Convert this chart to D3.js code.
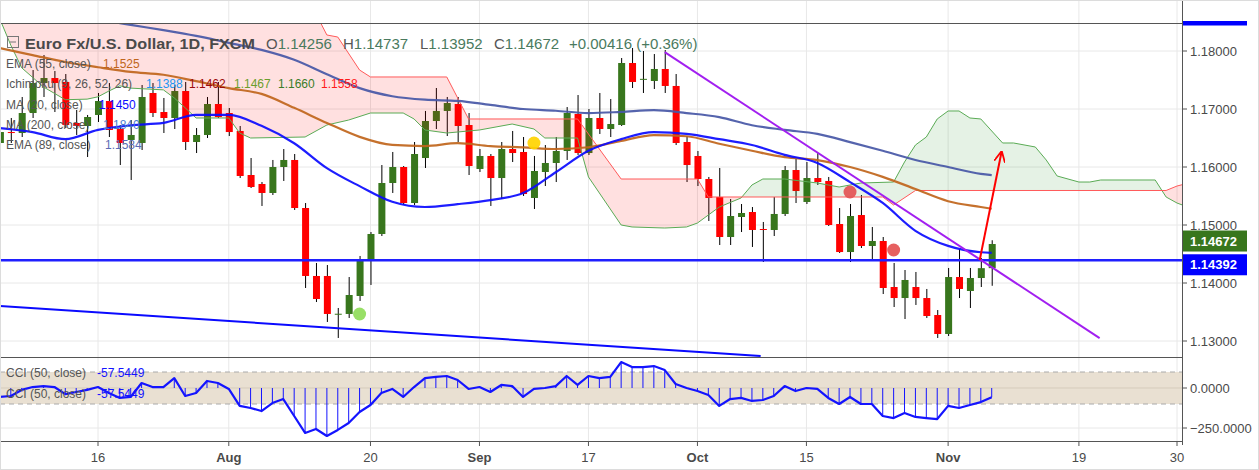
<!DOCTYPE html>
<html>
<head>
<meta charset="utf-8">
<script src="https://cdn.jsdelivr.net/npm/d3@7"></script>
<style>
    html, body { margin: 0; padding: 0; background: #fff; }
    svg { display: block; font-family: "Liberation Sans", Arial, sans-serif; }
</style>
</head>
<body>
<svg id="chart" width="1259" height="470"></svg>
<script>
// ===== DATA =====
// Daily candles, first visible bar = 3 Jul 2018 (index 0), last = 7 Nov 2018 (index 91)
const opens = [
    1.16414, 1.16603, 1.16586, 1.16931, 1.17448, 1.17534, 1.17466, 1.16759, 1.16707, 1.16897,
    1.17138, 1.16655, 1.16466, 1.16414, 1.17276, 1.16948, 1.16845, 1.17310, 1.16431, 1.16552,
    1.17086, 1.16931, 1.16621, 1.15862, 1.15707, 1.15552, 1.16000, 1.16121, 1.15293, 1.14121,
    1.14121, 1.13466, 1.13466, 1.13776, 1.14379, 1.14845, 1.15724, 1.16000, 1.15379, 1.16155,
    1.16793, 1.16966, 1.17086, 1.16724, 1.15966, 1.16190, 1.15810, 1.16310, 1.16259, 1.15466,
    1.15914, 1.16069, 1.16276, 1.16914, 1.16241, 1.16845, 1.16655, 1.16724, 1.17793, 1.17517,
    1.17483, 1.17690, 1.17397, 1.16431, 1.16190, 1.15793, 1.15483, 1.14793, 1.15138, 1.15224,
    1.14931, 1.14914, 1.15190, 1.15948, 1.15397, 1.15810, 1.15759, 1.15017, 1.14534, 1.15172,
    1.14638, 1.14724, 1.13931, 1.13741, 1.13931, 1.13741, 1.13448, 1.13121, 1.14103, 1.13862,
    1.14086, 1.14256
];
const highs = [
    1.16672, 1.16845, 1.17207, 1.17672, 1.17931, 1.17655, 1.17603, 1.16983, 1.16897, 1.17276,
    1.17448, 1.16724, 1.16810, 1.17414, 1.17448, 1.17190, 1.17414, 1.17466, 1.16672, 1.17207,
    1.17466, 1.17017, 1.16707, 1.16155, 1.15741, 1.16121, 1.16310, 1.16224, 1.15379, 1.14345,
    1.14310, 1.13569, 1.14103, 1.14466, 1.14879, 1.16034, 1.16259, 1.16017, 1.16431, 1.16966,
    1.17362, 1.17207, 1.17207, 1.16931, 1.16310, 1.16224, 1.16431, 1.16621, 1.16517, 1.16190,
    1.16379, 1.16517, 1.17034, 1.17241, 1.17000, 1.17276, 1.17172, 1.17879, 1.18052, 1.18000,
    1.17948, 1.18017, 1.17603, 1.16534, 1.16276, 1.15828, 1.15983, 1.15448, 1.15362, 1.15310,
    1.15052, 1.15483, 1.16017, 1.16138, 1.16086, 1.16241, 1.15828, 1.15293, 1.15362, 1.15517,
    1.14966, 1.14793, 1.14345, 1.14224, 1.14190, 1.13897, 1.13534, 1.14259, 1.14586, 1.14259,
    1.14431, 1.14737
];
const lows = [
    1.16362, 1.16414, 1.16517, 1.16845, 1.17207, 1.16948, 1.16672, 1.16552, 1.16172, 1.16776,
    1.16517, 1.16034, 1.15776, 1.16293, 1.16862, 1.16586, 1.16655, 1.16293, 1.16241, 1.16500,
    1.16845, 1.16534, 1.15810, 1.15638, 1.15328, 1.15517, 1.15759, 1.15259, 1.13914, 1.13672,
    1.13328, 1.13052, 1.13397, 1.13690, 1.13966, 1.14810, 1.15552, 1.15345, 1.15345, 1.15983,
    1.16655, 1.16534, 1.16431, 1.15862, 1.15914, 1.15328, 1.15448, 1.16086, 1.15500, 1.15276,
    1.15672, 1.15741, 1.16121, 1.16207, 1.16207, 1.16569, 1.16517, 1.16707, 1.17362, 1.17276,
    1.17345, 1.17276, 1.16379, 1.15741, 1.15672, 1.15069, 1.14655, 1.14655, 1.14879, 1.14621,
    1.14362, 1.14810, 1.15155, 1.15379, 1.15362, 1.15690, 1.14983, 1.14517, 1.14362, 1.14603,
    1.14414, 1.13810, 1.13586, 1.13379, 1.13621, 1.13397, 1.13052, 1.13086, 1.13741, 1.13569,
    1.13931, 1.13952
];
const closes = [
    1.16603, 1.16586, 1.16931, 1.17448, 1.17534, 1.17448, 1.16724, 1.16707, 1.16862, 1.17138,
    1.16638, 1.16414, 1.16552, 1.17207, 1.16931, 1.16845, 1.17310, 1.16431, 1.16552, 1.17086,
    1.16862, 1.16603, 1.15845, 1.15655, 1.15552, 1.16000, 1.16121, 1.15293, 1.14121, 1.13724,
    1.13466, 1.13470, 1.13793, 1.14379, 1.14845, 1.15724, 1.16000, 1.15379, 1.16224, 1.16793,
    1.16966, 1.17103, 1.16707, 1.16017, 1.16190, 1.15810, 1.16310, 1.16241, 1.15534, 1.15931,
    1.16069, 1.16276, 1.16931, 1.16241, 1.16845, 1.16655, 1.16741, 1.17793, 1.17466, 1.17520,
    1.17690, 1.17397, 1.16414, 1.16034, 1.15793, 1.15466, 1.14793, 1.15155, 1.15207, 1.14914,
    1.14925, 1.15190, 1.15948, 1.15586, 1.15810, 1.15741, 1.15000, 1.14534, 1.15155, 1.14638,
    1.14724, 1.13914, 1.13741, 1.14052, 1.13741, 1.13431, 1.13121, 1.14103, 1.13897, 1.14086,
    1.14256, 1.14672
];

// Moving averages, read every third bar (plus the last bar)
const maDays = [0, 3, 6, 9, 12, 15, 18, 21, 24, 27, 30, 33, 36, 39, 42, 45,
                48, 51, 54, 57, 60, 63, 66, 69, 72, 75, 78, 81, 84, 87, 90, 91];
const ma20 = [1.1667, 1.1660, 1.1648, 1.1664, 1.1672, 1.1676, 1.1690, 1.1690, 1.1671, 1.1641, 1.1598,
              1.1567, 1.1540, 1.1531, 1.1536, 1.1543, 1.1555, 1.1591, 1.1628, 1.1648, 1.1660, 1.1657,
              1.1648, 1.1638, 1.1621, 1.1607, 1.1574, 1.1538, 1.1490, 1.1464, 1.1453, 1.1452];
const ema55 = [1.1805, 1.1793, 1.1781, 1.1772, 1.1764, 1.1759, 1.1748, 1.1736, 1.1726, 1.1702, 1.1676,
               1.1652, 1.1638, 1.1636, 1.1641, 1.1636, 1.1634, 1.1631, 1.1634, 1.1645, 1.1655, 1.1653,
               1.1640, 1.1628, 1.1617, 1.1612, 1.1600, 1.1583, 1.1562, 1.1541, 1.1531, 1.1528];
const ema89 = [1.1888, 1.1878, 1.1867, 1.1855, 1.1845, 1.1836, 1.1826, 1.1814, 1.1802, 1.1785, 1.1760,
               1.1736, 1.1722, 1.1716, 1.1714, 1.1707, 1.1700, 1.1697, 1.1693, 1.1695, 1.1698, 1.1693,
               1.1686, 1.1672, 1.1664, 1.1657, 1.1643, 1.1628, 1.1612, 1.1600, 1.1588, 1.1586];

// Ichimoku cloud edges [bar index, price] (projected 26 bars ahead)
const spanA = [
    [0, 1.1855], [1, 1.1810], [2, 1.1771], [4, 1.1738], [6, 1.1716], [8, 1.1717], [9, 1.1721],
    [10, 1.1731], [11, 1.1740], [12, 1.1736], [15, 1.1733], [16, 1.1719], [17, 1.1702], [18, 1.16845],
    [21, 1.16845], [22, 1.16586], [23, 1.16500], [28, 1.16517], [30, 1.16724], [32, 1.16810],
    [34, 1.16931], [37, 1.16931], [38, 1.16828], [39, 1.16638], [41, 1.16586], [44, 1.16638],
    [47, 1.16741], [49, 1.16655], [50, 1.16500], [53, 1.16500], [54, 1.15828], [55, 1.15552],
    [57, 1.15000], [58, 1.14966], [61, 1.14948], [63, 1.14966], [64, 1.15034], [66, 1.15310],
    [68, 1.15466], [69, 1.15690], [70, 1.15793], [72, 1.15793], [75, 1.15724], [77, 1.15655],
    [79, 1.15724], [82, 1.15741], [83, 1.16086], [84, 1.16379], [85, 1.16517], [86, 1.16828],
    [87, 1.16966], [88, 1.16966], [89, 1.16845], [90, 1.16828], [92, 1.16414], [93, 1.16414],
    [95, 1.16345], [96, 1.16121], [97, 1.15845], [99, 1.15741], [100, 1.15741], [101, 1.15776],
    [106, 1.15776], [107, 1.15483], [108, 1.15379], [109, 1.15310]
];
const spanB = [
    [0, 1.1900], [29, 1.1864], [30, 1.18276], [31, 1.18241], [33, 1.17672], [34, 1.17552],
    [41, 1.17552], [43, 1.16828], [53, 1.16828], [57, 1.15793], [64, 1.15793], [65, 1.15483],
    [81, 1.15483], [82, 1.15345], [84, 1.15595], [107, 1.15595], [108, 1.15672], [109, 1.15720]
];

// CCI (50, close), one value per bar
const cci = [
    -56, -50, -12, 6, 12, 6, -38, -25, -12, 6,
    -31, -62, -56, 31, 6, 6, 62, -50, -31, 44,
    31, -6, -112, -125, -144, -94, -69, -175, -281, -256,
    -300, -262, -219, -150, -106, -31, -6, -56, 6, 62,
    69, 75, 50, -6, 6, -25, 19, 12, -56, -6,
    0, 12, 75, 19, 75, 62, 69, 162, 131, 131,
    137, 112, 25, 0, -19, -44, -112, -69, -62, -81,
    -75, -50, 12, -19, 0, -6, -62, -100, -56, -100,
    -100, -175, -188, -156, -181, -188, -194, -112, -125, -106,
    -88, -57.5449
];

// Drawings [bar index, price]
const fallingTrend = [[61, 1.1798], [100.9, 1.1305]];
const lowerTrend   = [[0, 1.13603], [69.8, 1.12741]];
const arrowUp      = [[89.9, 1.14397], [91.9, 1.16259]];
const supportLevel = 1.14392;
const markers = [
    { day: 33, price: 1.13466, color: '#8fdc5a' },
    { day: 49, price: 1.16414, color: '#ffd400' },
    { day: 78, price: 1.15569, color: '#e45353' },
    { day: 82, price: 1.14569, color: '#e45353' },
];

// Axes
const priceTicks = [1.13, 1.14, 1.15, 1.16, 1.17, 1.18];
const cciTicks   = [0, -250];
const tickDates  = ['2018-07-16', '2018-08-01', '2018-08-20', '2018-09-03', '2018-09-17',
                    '2018-10-01', '2018-10-15', '2018-11-01', '2018-11-19', '2018-11-30'];
const tickLabels = ['16', 'Aug', '20', 'Sep', '17', 'Oct', '15', 'Nov', '19', '30'];


// ===== LAYOUT =====
const W = 1259, H = 470;
const plotR = 1182;
const paneTop = 23, paneBot = 357, cciBot = 441;

const svg = d3.select('#chart');

// trading days (Mon-Fri) from 3 Jul to 30 Nov 2018
const fmt = d3.timeFormat('%Y-%m-%d');
const tradingDays = d3.timeDay.range(new Date(2018, 6, 3), new Date(2018, 11, 1))
    .filter(d => d.getDay() !== 0 && d.getDay() !== 6)
    .map(fmt);

const x  = d3.scaleLinear().domain([9, 108]).range([98, 1177]);
const y  = d3.scaleLinear().domain([1.13, 1.18]).range([341, 51]);
const yc = d3.scaleLinear().domain([-250, 0]).range([428, 388]);

const defs = svg.append('defs');
defs.append('clipPath').attr('id', 'clipPrice')
    .append('rect').attr('x', 0).attr('y', paneTop).attr('width', plotR).attr('height', paneBot - paneTop);
defs.append('clipPath').attr('id', 'clipCci')
    .append('rect').attr('x', 0).attr('y', paneBot).attr('width', plotR).attr('height', cciBot - paneBot);

// cloud clip regions: above span B / above span A
defs.append('clipPath').attr('id', 'aboveB').append('path')
    .attr('d', d3.area().x(d => x(d[0])).y0(-50).y1(d => y(d[1]))(spanB));
defs.append('clipPath').attr('id', 'aboveA').append('path')
    .attr('d', d3.area().x(d => x(d[0])).y0(-50).y1(d => y(d[1]))(spanA));

defs.append('marker').attr('id', 'arrowHead')
    .attr('viewBox', '0 0 10 10').attr('refX', 9).attr('refY', 5)
    .attr('markerWidth', 5.5).attr('markerHeight', 5.5).attr('orient', 'auto')
    .append('path').attr('d', 'M0,0 L10,5 L0,10')
    .attr('fill', 'none').attr('stroke', '#ff0000').attr('stroke-width', 1.6);


// ===== GRID =====
const tickIdx = tickDates.map(d => tradingDays.indexOf(d));

svg.append('g').selectAll('line')
    .data(tickIdx).enter().append('line')
    .attr('x1', d => x(d)).attr('x2', d => x(d))
    .attr('y1', 0).attr('y2', cciBot)
    .attr('stroke', '#e8e8e8');

svg.append('g').selectAll('line')
    .data(priceTicks).enter().append('line')
    .attr('x1', 0).attr('x2', plotR)
    .attr('y1', d => y(d)).attr('y2', d => y(d))
    .attr('stroke', '#e8e8e8');


// ===== PRICE PANE =====
const price = svg.append('g').attr('clip-path', 'url(#clipPrice)');
const candles = opens.map((o, i) => ({ i, o, h: highs[i], l: lows[i], c: closes[i] }));
const upCol = '#38761d', dnCol = '#ff0000';

price.append('g').selectAll('line')
    .data(candles).enter().append('line')
    .attr('x1', d => x(d.i) + 0.5).attr('x2', d => x(d.i) + 0.5)
    .attr('y1', d => y(d.h)).attr('y2', d => y(d.l))
    .attr('stroke', '#000').attr('stroke-width', 1);

price.append('g').selectAll('rect')
    .data(candles).enter().append('rect')
    .attr('x', d => x(d.i) - 3)
    .attr('width', 7)
    .attr('y', d => y(Math.max(d.o, d.c)))
    .attr('height', d => Math.max(1, Math.abs(y(d.o) - y(d.c))))
    .attr('fill', d => d.c >= d.o ? upCol : dnCol);

// Ichimoku cloud
price.append('path')
    .attr('d', d3.area().x(d => x(d[0])).y0(d => y(d[1])).y1(paneBot + 50)(spanA))
    .attr('clip-path', 'url(#aboveB)')
    .attr('fill', 'rgba(0,128,0,0.1)');
price.append('path')
    .attr('d', d3.area().x(d => x(d[0])).y0(d => y(d[1])).y1(paneBot + 50)(spanB))
    .attr('clip-path', 'url(#aboveA)')
    .attr('fill', 'rgba(255,0,0,0.12)');

const line = d3.line().x(d => x(d[0])).y(d => y(d[1]));
price.append('path').attr('d', line(spanA))
    .attr('fill', 'none').attr('stroke', '#5aab55').attr('stroke-width', 1);
price.append('path').attr('d', line(spanB))
    .attr('fill', 'none').attr('stroke', '#ff5a5a').attr('stroke-width', 1);

// moving averages
const smooth = d3.line().x(d => x(d[0])).y(d => y(d[1])).curve(d3.curveMonotoneX);
[[ema89, '#4657a6'], [ema55, '#c0651b'], [ma20, '#0a0aff']].forEach(([vals, col]) => {
    price.append('path')
        .attr('d', smooth(maDays.map((t, k) => [t, vals[k]])))
        .attr('fill', 'none').attr('stroke', col).attr('stroke-width', 2.2)
        .attr('stroke-linejoin', 'round').attr('opacity', 0.92);
});

// drawings
price.append('line')
    .attr('x1', 0).attr('x2', plotR)
    .attr('y1', y(supportLevel)).attr('y2', y(supportLevel))
    .attr('stroke', '#1f1fff').attr('stroke-width', 2.4);

price.append('path').attr('d', line(lowerTrend))
    .attr('fill', 'none').attr('stroke', '#0a0aff').attr('stroke-width', 2);

price.append('path').attr('d', line(fallingTrend))
    .attr('fill', 'none').attr('stroke', '#a21ff0').attr('stroke-width', 2);

price.append('path').attr('d', line(arrowUp))
    .attr('fill', 'none').attr('stroke', '#ff0000').attr('stroke-width', 2)
    .attr('marker-end', 'url(#arrowHead)');

price.append('g').selectAll('circle')
    .data(markers).enter().append('circle')
    .attr('cx', d => x(d.day)).attr('cy', d => y(d.price))
    .attr('r', 6.5).attr('fill', d => d.color).attr('opacity', 0.92);


// ===== CCI PANE =====
const cciG = svg.append('g').attr('clip-path', 'url(#clipCci)');

cciG.append('rect')
    .attr('x', 0).attr('width', plotR)
    .attr('y', yc(100)).attr('height', yc(-100) - yc(100))
    .attr('fill', '#e9e0d2');

cciG.selectAll('.cci-grid')
    .data(cciTicks).enter().append('line')
    .attr('x1', 0).attr('x2', plotR)
    .attr('y1', d => yc(d)).attr('y2', d => yc(d))
    .attr('stroke', d => d === 0 ? '#d5cbbb' : '#e8e8e8');

cciG.selectAll('.cci-band')
    .data([100, -100]).enter().append('line')
    .attr('x1', 0).attr('x2', plotR)
    .attr('y1', d => yc(d)).attr('y2', d => yc(d))
    .attr('stroke', '#aaa').attr('stroke-dasharray', '5,4');

cciG.append('g').selectAll('line')
    .data(cci).enter().append('line')
    .attr('x1', (d, i) => x(i)).attr('x2', (d, i) => x(i))
    .attr('y1', yc(0)).attr('y2', d => yc(d))
    .attr('stroke', '#1414ff').attr('stroke-width', 1);

cciG.append('path')
    .attr('d', d3.line().x((d, i) => x(i)).y(d => yc(d))(cci))
    .attr('fill', 'none').attr('stroke', '#1414ff').attr('stroke-width', 2.2)
    .attr('stroke-linejoin', 'round');


// ===== FRAME & AXES =====
const axisCol = '#555';
[paneTop, paneBot, cciBot].forEach(yy => {
    svg.append('line').attr('x1', 0).attr('x2', plotR)
        .attr('y1', yy + 0.5).attr('y2', yy + 0.5)
        .attr('stroke', axisCol);
});
svg.append('line').attr('x1', plotR + 0.5).attr('x2', plotR + 0.5)
    .attr('y1', 0).attr('y2', cciBot + 4).attr('stroke', axisCol);

svg.append('rect').attr('x', 0.5).attr('y', 0.5).attr('width', W - 1).attr('height', H - 1)
    .attr('fill', 'none').attr('stroke', '#dcdcdc');

// right price axis
const axisText = '#4a4a4a';
const pAxis = svg.append('g');
priceTicks.forEach(p => {
    pAxis.append('line').attr('x1', plotR).attr('x2', plotR + 5)
        .attr('y1', y(p)).attr('y2', y(p)).attr('stroke', axisCol);
    pAxis.append('text').attr('x', plotR + 8).attr('y', y(p) + 4.5)
        .attr('font-size', 13).attr('fill', axisText)
        .text(d3.format('.5f')(p));
});
cciTicks.forEach(v => {
    pAxis.append('line').attr('x1', plotR).attr('x2', plotR + 5)
        .attr('y1', yc(v)).attr('y2', yc(v)).attr('stroke', axisCol);
    pAxis.append('text').attr('x', plotR + 8).attr('y', yc(v) + 4.5)
        .attr('font-size', 13).attr('fill', axisText)
        .text(d3.format('.4f')(v));
});

// last price / support labels
const lastClose = closes[closes.length - 1];
const labels = [
    { v: lastClose,    dy: -3,  fill: '#38761d' },
    { v: supportLevel, dy: 4.5, fill: '#0000ff' },
];
labels.forEach(l => {
    const cy = y(l.v) + l.dy;
    pAxis.append('rect').attr('x', plotR + 1).attr('y', cy - 10.5)
        .attr('width', 64).attr('height', 21).attr('fill', l.fill);
    pAxis.append('text').attr('x', plotR + 8).attr('y', cy + 4.5)
        .attr('font-size', 13).attr('font-weight', 'bold').attr('fill', '#fff')
        .text(d3.format('.5f')(l.v));
});
// label of a level above the visible range (only its edge shows)
pAxis.append('rect').attr('x', plotR + 1).attr('y', 21).attr('width', 64).attr('height', 4.5)
    .attr('fill', '#0000ff');

// bottom date axis
const xAxis = svg.append('g');
tickIdx.forEach((t, k) => {
    xAxis.append('line').attr('x1', x(t)).attr('x2', x(t))
        .attr('y1', cciBot).attr('y2', cciBot + 5).attr('stroke', axisCol);
    const isMonth = /[A-Za-z]/.test(tickLabels[k]);
    xAxis.append('text').attr('x', x(t)).attr('y', 462)
        .attr('text-anchor', 'middle').attr('font-size', 13)
        .attr('font-weight', isMonth ? 'bold' : 'normal')
        .attr('fill', axisText).text(tickLabels[k]);
});


// ===== LEGENDS =====
const leg = svg.append('g');
const legGray = '#555';

// header
leg.append('rect').attr('x', 7.5).attr('y', 36.5).attr('width', 11).attr('height', 11)
    .attr('fill', 'none').attr('stroke', '#777');
leg.append('line').attr('x1', 10).attr('x2', 16).attr('y1', 42).attr('y2', 42).attr('stroke', '#777');
leg.append('text').attr('x', 25).attr('y', 49)
    .attr('font-size', 15).attr('font-weight', 'bold').attr('fill', '#4a4a4a')
    .attr('textLength', 230).attr('lengthAdjust', 'spacingAndGlyphs')
    .text('Euro Fx/U.S. Dollar, 1D, FXCM');

const ohlcCol = '#4a7a5e';
const ohlc = [
    ['O', opens[opens.length - 1], 266],
    ['H', highs[highs.length - 1], 343],
    ['L', lows[lows.length - 1], 420],
    ['C', lastClose, 494],
];
ohlc.forEach(([k, v, px]) => {
    const t = leg.append('text').attr('x', px).attr('y', 49).attr('font-size', 15);
    t.append('tspan').attr('fill', legGray).text(k);
    t.append('tspan').attr('fill', ohlcCol).text(d3.format('.5f')(v));
});
const prevClose = closes[closes.length - 2];
const chg = lastClose - prevClose;
leg.append('text').attr('x', 569).attr('y', 49).attr('font-size', 15).attr('fill', ohlcCol)
    .text('+' + d3.format('.5f')(chg) + ' (+' + d3.format('.2f')(chg / prevClose * 100) + '%)');

// indicator rows
const rows = [
    { y: 68,  name: 'EMA (55, close)', vals: [['1.1525', '#c0651b', 103]] },
    { y: 88,  name: 'Ichimoku (9, 26, 52, 26)', vals: [
        ['1.1388', '#2196f3', 146], ['1.1462', '#9c0a0a', 189], ['1.1467', '#6a9e2c', 234],
        ['1.1660', '#3a7d28', 278], ['1.1558', '#ff1a1a', 321]] },
    { y: 109, name: 'MA (20, close)', vals: [['1.1450', '#0a0aff', 99]] },
    { y: 129, name: 'MA (200, close)', vals: [['1.1840', '#4a7ad0', 103]] },
    { y: 149, name: 'EMA (89, close)', vals: [['1.1584', '#5b6bb5', 105]] },
    { y: 377, name: 'CCI (50, close)', vals: [['-57.5449', '#1414ff', 97]] },
    { y: 398, name: 'CCI (50, close)', vals: [['-57.5449', '#1414ff', 97]] },
];
rows.forEach(r => {
    leg.append('text').attr('x', 6).attr('y', r.y).attr('font-size', 12)
        .attr('fill', legGray).text(r.name);
    r.vals.forEach(([txt, col, px]) => {
        leg.append('text').attr('x', px).attr('y', r.y).attr('font-size', 12)
            .attr('fill', col).text(txt);
    });
});
</script>
</body>
</html>
